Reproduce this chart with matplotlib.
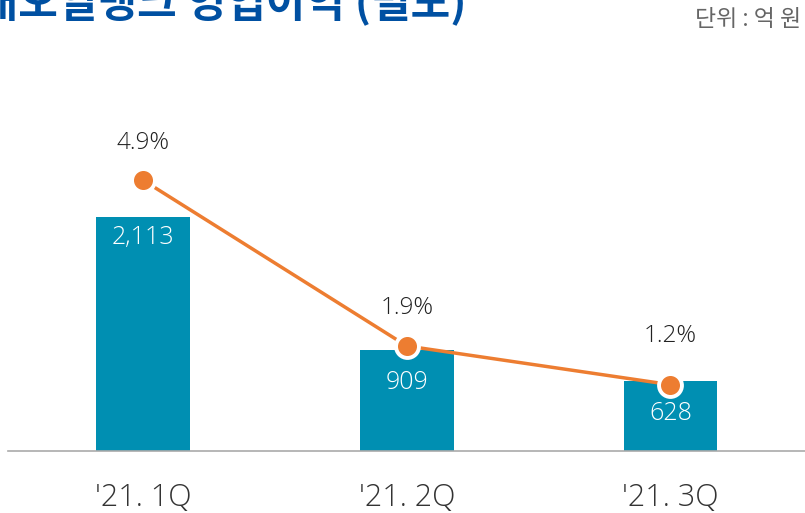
import matplotlib.pyplot as plt

plt.rcParams['font.family'] = ['Open Sans', 'Noto Sans CJK KR', 'DejaVu Sans']

quarters = ["'21. 1Q", "'21. 2Q", "'21. 3Q"]
profit = [2113, 909, 628]          # 억 원
margin = [4.9, 1.9, 1.2]           # %
profit_labels = ['2,113', '909', '628']
margin_labels = ['4.9%', '1.9%', '1.2%']

title = '현대오일뱅크 영업이익 (별도)'
unit = '단위 : 억 원'

bar_color = '#008FB2'
line_color = '#ED7D31'
W, H = 805, 513


def main():
    fig = plt.figure(figsize=(W / 100, H / 100), dpi=100)
    ax = fig.add_axes([8 / W, 62 / H, 797 / W, 351 / H])
    ax2 = ax.twinx()

    x = list(range(len(quarters)))
    ax.bar(x, profit, width=0.356, color=bar_color, zorder=2)
    ax.set_xlim(-0.512, 2.510)
    ax.set_ylim(0, 3170)
    ax.set_xticks(x)
    ax.set_xticklabels(quarters, fontsize=22, color='#333333', fontweight='light')
    ax.tick_params(axis='x', length=0, pad=22)
    ax.set_yticks([])

    for s in ['top', 'left', 'right']:
        ax.spines[s].set_visible(False)
        ax2.spines[s].set_visible(False)
    ax.spines['bottom'].set_color('#AAAAAA')
    ax.spines['bottom'].set_linewidth(1.2)
    ax2.spines['bottom'].set_visible(False)

    for i, (v, lab) in enumerate(zip(profit, profit_labels)):
        # push the label lower where the marker sits on the bar
        off = -15 if i == 0 else -23
        ax.annotate(lab, (i, v), xytext=(0, off), textcoords='offset points',
                    ha='center', va='center', color='white', fontsize=18,
                    fontweight='light', zorder=3)

    ax2.plot(x, margin, color=line_color, lw=2.5, marker='o', ms=16.5,
             mfc=line_color, mec='white', mew=2.8, zorder=4)
    ax2.set_ylim(0, 6.35)
    ax2.set_yticks([])
    for i, (v, lab) in enumerate(zip(margin, margin_labels)):
        # last label sits a bit higher in the original
        off = 35 if i == len(margin) - 1 else 27
        ax2.annotate(lab, (i, v), xytext=(0, off), textcoords='offset points',
                     ha='center', va='center', color='#222222', fontsize=17.5,
                     fontweight='light')

    # title is cropped at the top/left edge in the original
    fig.text(-61 / W, 1 - 17 / H, title, ha='left', va='baseline',
             fontsize=31, fontweight='bold', color='#0050A2',
             family=['Noto Sans CJK KR', 'DejaVu Sans'])
    fig.text(801 / W, 1 - 20 / H, unit, ha='right', va='center',
             fontsize=16.5, color='#666666',
             family=['Noto Sans CJK KR', 'DejaVu Sans'])

    fig.savefig('out.png', dpi=100)
    plt.close(fig)


if __name__ == '__main__':
    main()
